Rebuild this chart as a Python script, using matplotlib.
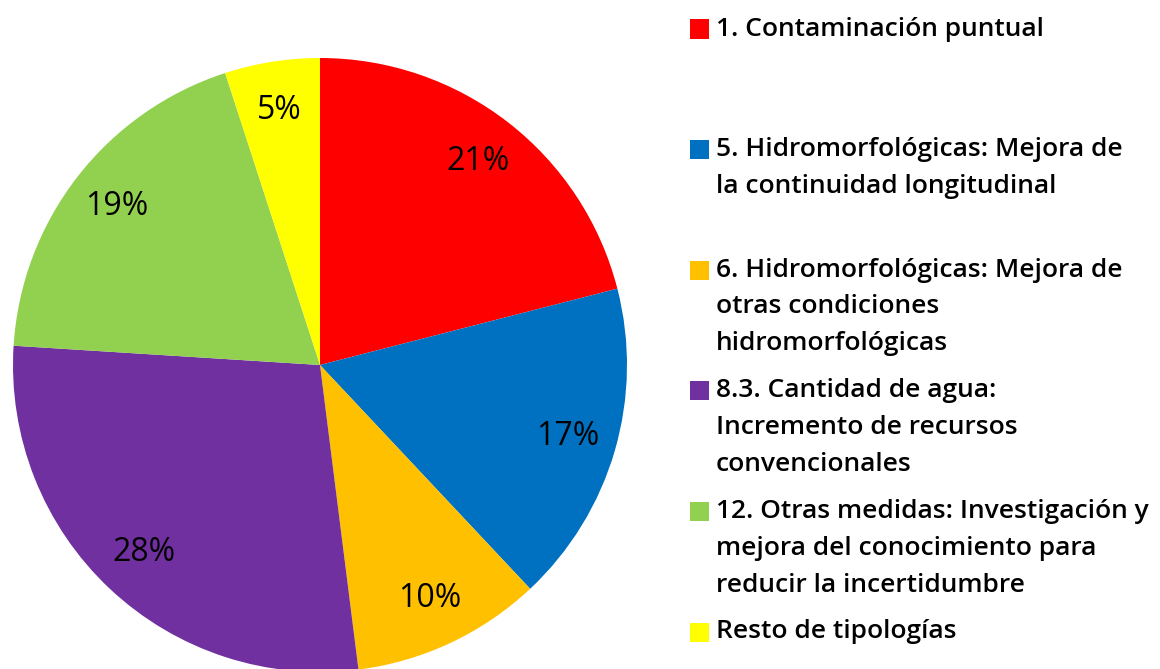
import matplotlib
matplotlib.use("Agg")
import matplotlib.pyplot as plt
from matplotlib.patches import Rectangle

# Share of measures by type (percent)
categories = [
    "1. Contaminación puntual",
    "5. Hidromorfológicas: Mejora de\nla continuidad longitudinal",
    "6. Hidromorfológicas: Mejora de\notras condiciones\nhidromorfológicas",
    "8.3. Cantidad de agua:\nIncremento de recursos\nconvencionales",
    "12. Otras medidas: Investigación y\nmejora del conocimiento para\nreducir la incertidumbre",
    "Resto de tipologías",
]
shares = [21, 17, 10, 28, 19, 5]
colors = ["#FF0000", "#0070C0", "#FFC000", "#7030A0", "#92D050", "#FFFF00"]

W, H = 1160, 669
fig = plt.figure(figsize=(W / 100, H / 100), dpi=100)
fig.patch.set_facecolor("white")

# Pie axes: centre at (320, 365) px, radius 307 px
cx, cy, R = 320, 365, 307
ax = fig.add_axes([(cx - R) / W, (H - cy - R) / H, 2 * R / W, 2 * R / H])
wedges, texts, autotexts = ax.pie(
    shares, colors=colors, startangle=90, counterclock=False,
    autopct="%d%%", pctdistance=0.84, radius=1.0,
    wedgeprops=dict(linewidth=0),
    textprops=dict(fontfamily="Open Sans", fontsize=23, color="black"),
)
ax.set_xlim(-1, 1)
ax.set_ylim(-1, 1)
ax.set_aspect("equal")
ax.axis("off")

# Legend drawn as evenly spaced slots on the right
slot_top = 29
slot_h = 120.6
line_h = 36.8
sq = 19
text_x = 716
sq_x = 690
for i, (label, col) in enumerate(zip(categories, colors)):
    y0 = slot_top + i * slot_h
    fig.patches.append(Rectangle(((sq_x) / W, (H - y0 - sq / 2) / H), sq / W, sq / H,
                                 transform=fig.transFigure, facecolor=col,
                                 edgecolor="none"))
    for j, line in enumerate(label.split("\n")):
        y = y0 + j * line_h
        fig.text(text_x / W, (H - y) / H, line, ha="left", va="center",
                 fontfamily="Open Sans", fontweight="semibold", fontsize=19,
                 color="black")

fig.savefig("out.png", dpi=100, facecolor="white")
